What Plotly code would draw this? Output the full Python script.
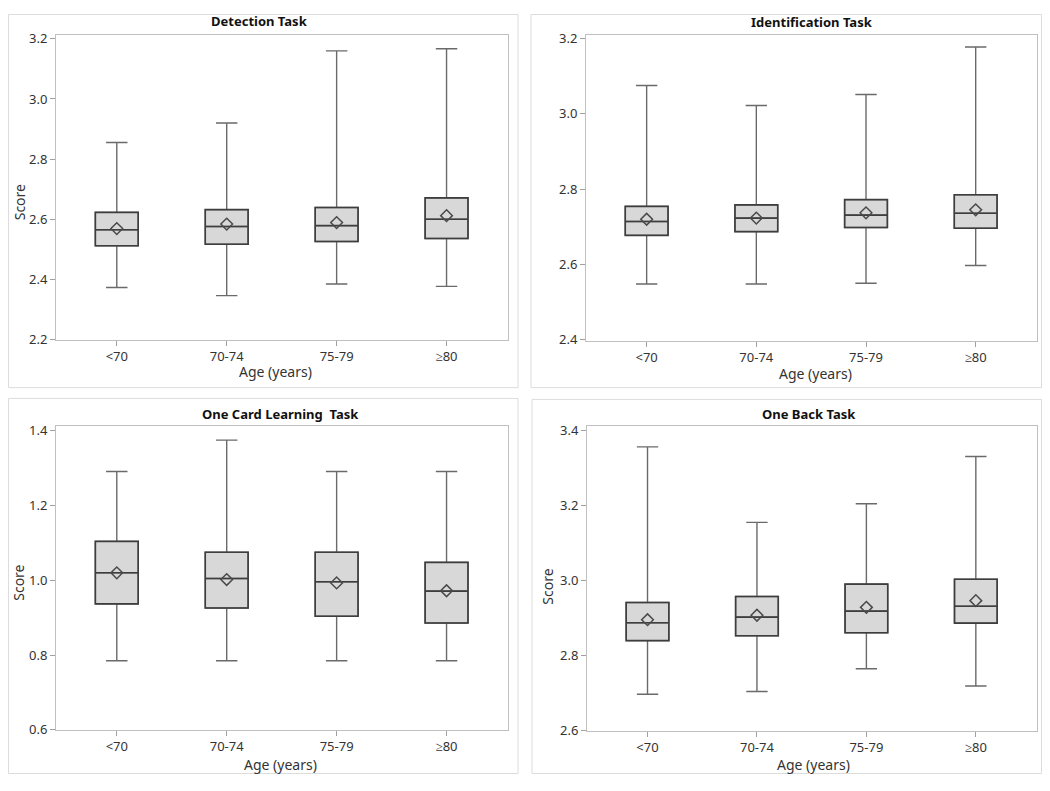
import plotly.graph_objects as go

ages = ["<70", "70-74", "75-79", "≥80"]

# Detection Task
det_low = [2.373, 2.346, 2.385, 2.377]
det_q1 = [2.512, 2.517, 2.526, 2.536]
det_med = [2.565, 2.576, 2.579, 2.600]
det_q3 = [2.623, 2.632, 2.639, 2.671]
det_high = [2.855, 2.920, 3.160, 3.167]
det_mean = [2.569, 2.584, 2.589, 2.612]

# Identification Task
ide_low = [2.548, 2.548, 2.550, 2.597]
ide_q1 = [2.677, 2.687, 2.698, 2.696]
ide_med = [2.714, 2.723, 2.731, 2.736]
ide_q3 = [2.754, 2.758, 2.772, 2.785]
ide_high = [3.075, 3.022, 3.051, 3.177]
ide_mean = [2.720, 2.723, 2.737, 2.745]

# One Card Learning Task
ocl_low = [0.785, 0.785, 0.785, 0.785]
ocl_q1 = [0.937, 0.926, 0.904, 0.886]
ocl_med = [1.020, 1.005, 0.996, 0.971]
ocl_q3 = [1.104, 1.075, 1.075, 1.048]
ocl_high = [1.291, 1.375, 1.291, 1.291]
ocl_mean = [1.020, 1.002, 0.993, 0.972]

# One Back Task
onb_low = [2.696, 2.703, 2.764, 2.718]
onb_q1 = [2.839, 2.852, 2.860, 2.886]
onb_med = [2.887, 2.902, 2.918, 2.931]
onb_q3 = [2.941, 2.957, 2.990, 3.003]
onb_high = [3.357, 3.155, 3.205, 3.331]
onb_mean = [2.895, 2.907, 2.928, 2.946]

# page body has an 8px margin, so the figure is 16px smaller than the window
OFF = 8
W, H = 1050 - 2 * OFF, 791 - 2 * OFF
FONT = "Noto Sans"


def fx(p):
    return min(max(p - OFF, 0.5), W - 0.5) / W


def fy(p):
    return 1 - min(max(p - OFF, 0.5), H - 0.5) / H


panels = [
    dict(title="Detection Task", low=det_low, q1=det_q1, med=det_med, q3=det_q3,
         high=det_high, mean=det_mean, yrange=[2.2, 3.214], ticks=[2.2, 2.4, 2.6, 2.8, 3.0, 3.2],
         box=(56, 29, 508, 340), score=True, title_xy=(259, 15),
         age_xy=(275, 373), score_xy=(19, 200), frame=(2, 1, 518, 389)),
    dict(title="Identification Task", low=ide_low, q1=ide_q1, med=ide_med, q3=ide_q3,
         high=ide_high, mean=ide_mean, yrange=[2.398, 3.21], ticks=[2.4, 2.6, 2.8, 3.0, 3.2],
         box=(586, 29, 1037, 341), score=False, title_xy=(812, 16),
         age_xy=(815, 375), score_xy=None, frame=(531, 1, 1045, 389)),
    dict(title="One Card Learning  Task", low=ocl_low, q1=ocl_q1, med=ocl_med, q3=ocl_q3,
         high=ocl_high, mean=ocl_mean, yrange=[0.6, 1.413], ticks=[0.6, 0.8, 1.0, 1.2, 1.4],
         box=(56, 428, 508, 738), score=True, title_xy=(280, 416),
         age_xy=(280, 773), score_xy=(19, 588), frame=(2, 400, 518, 788)),
    dict(title="One Back Task", low=onb_low, q1=onb_q1, med=onb_med, q3=onb_q3,
         high=onb_high, mean=onb_mean, yrange=[2.598, 3.413], ticks=[2.6, 2.8, 3.0, 3.2, 3.4],
         box=(587, 428, 1037, 739), score=True, title_xy=(809, 416),
         age_xy=(813, 773), score_xy=(548, 592), frame=(532, 401, 1045, 790)),
]

fig = go.Figure()
annotations = []
shapes = []

for i, p in enumerate(panels):
    n = "" if i == 0 else str(i + 1)
    xa, ya = "x" + n, "y" + n
    # whiskers in a lighter grey
    fig.add_trace(go.Box(
        x=ages, q1=p["q1"], median=p["med"], q3=p["q3"],
        lowerfence=p["low"], upperfence=p["high"],
        width=0.39, whiskerwidth=0.5,
        fillcolor="#d8d8d8", line=dict(color="#6a6a6a", width=1.4),
        boxpoints=False, showlegend=False, xaxis=xa, yaxis=ya, hoverinfo="skip",
    ))
    # darker box outline on top
    fig.add_trace(go.Box(
        x=ages, q1=p["q1"], median=p["med"], q3=p["q3"],
        lowerfence=p["q1"], upperfence=p["q3"],
        width=0.39, whiskerwidth=0.5,
        fillcolor="rgba(0,0,0,0)", line=dict(color="#3e3e3e", width=1.6),
        boxpoints=False, showlegend=False, xaxis=xa, yaxis=ya, hoverinfo="skip",
    ))
    fig.add_trace(go.Scatter(
        x=ages, y=p["mean"], mode="markers",
        marker=dict(symbol="diamond-open", size=9, color="#4a4a4a", line=dict(width=1.5)),
        showlegend=False, xaxis=xa, yaxis=ya, hoverinfo="skip",
    ))
    axis_common = dict(showline=True, linecolor="#c0c0c0", linewidth=1, mirror=True,
                       ticks="outside", ticklen=5, tickcolor="#a0a0a0", showgrid=False,
                       zeroline=False, tickfont=dict(family=FONT, size=13, color="#333333"))
    bx0, by0, bx1, by1 = p["box"]
    fig.layout["xaxis" + n] = dict(domain=[fx(bx0), fx(bx1)], anchor=ya, range=[-0.553, 3.559],
                                   type="category", **axis_common)
    fig.layout["yaxis" + n] = dict(domain=[fy(by1), fy(by0)], anchor=xa, range=p["yrange"],
                                   tickvals=p["ticks"], tickformat=".1f", **axis_common)
    tx, ty = p["title_xy"]
    annotations.append(dict(text="<b>" + p["title"] + "</b>", x=fx(tx), y=fy(ty),
                            xref="paper", yref="paper", xanchor="center", yanchor="middle",
                            showarrow=False, font=dict(family=FONT, size=13, color="#111111")))
    ax_, ay_ = p["age_xy"]
    annotations.append(dict(text="Age (years)", x=fx(ax_), y=fy(ay_),
                            xref="paper", yref="paper", xanchor="center", yanchor="middle",
                            showarrow=False, font=dict(family=FONT, size=14, color="#333333")))
    if p["score"]:
        sx, sy = p["score_xy"]
        annotations.append(dict(text="Score", x=fx(sx), y=fy(sy),
                                xref="paper", yref="paper", xanchor="center", yanchor="middle",
                                showarrow=False, textangle=-90,
                                font=dict(family=FONT, size=14, color="#333333")))
    x0, y0, x1, y1 = p["frame"]
    shapes.append(dict(type="rect", xref="paper", yref="paper",
                       x0=fx(x0), x1=fx(x1), y0=fy(y1), y1=fy(y0),
                       line=dict(color="#dcdcdc", width=1)))

fig.update_layout(
    width=W, height=H,
    margin=dict(l=0, r=0, t=0, b=0),
    paper_bgcolor="white", plot_bgcolor="white",
    annotations=annotations, shapes=shapes,
    font=dict(family=FONT),
    boxmode="overlay",
)

fig.write_html("out.html")
